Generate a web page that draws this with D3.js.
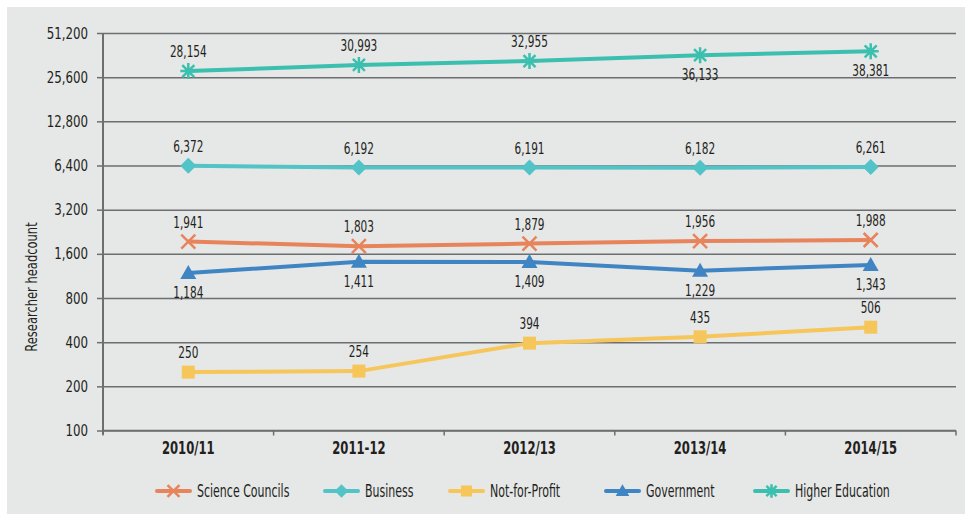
<!DOCTYPE html>
<html><head><meta charset="utf-8">
<script src="https://cdn.jsdelivr.net/npm/d3@7"></script>
<style>
html,body{margin:0;padding:0;background:#fff;}
text{font-family:"DejaVu Sans Condensed","Liberation Sans Narrow",sans-serif;fill:#231f20;}
</style></head>
<body><svg id="c" width="970" height="514"></svg>
<script>
const categories = ["2010/11","2011-12","2012/13","2013/14","2014/15"];
const seriesNames = ["Science Councils","Business","Not-for-Profit","Government","Higher Education"];
const scienceCouncils = [1941,1803,1879,1956,1988];
const business = [6372,6192,6191,6182,6261];
const notForProfit = [250,254,394,435,506];
const government = [1184,1411,1409,1229,1343];
const higherEducation = [28154,30993,32955,36133,38381];
const yTicks = [100,200,400,800,1600,3200,6400,12800,25600,51200];
const labelPos = {
  "Science Councils":["a","a","a","a","a"],
  "Business":["a","a","a","a","a"],
  "Not-for-Profit":["a","a","a","a","a"],
  "Government":["b","b","b","b","b"],
  "Higher Education":["a","a","a","b","b"]
};
const colors = {"Science Councils":"#e8845b","Business":"#52c3c7","Not-for-Profit":"#f6c65b","Government":"#3f84c3","Higher Education":"#3bbfae"};
const markers = {"Science Councils":"x","Business":"diamond","Not-for-Profit":"square","Government":"triangle","Higher Education":"asterisk"};
const seriesValues = [scienceCouncils,business,notForProfit,government,higherEducation];

const svg = d3.select("#c");
svg.append("rect").attr("x",7).attr("y",7).attr("width",958).attr("height",507).attr("fill","#e6e7e7");

const pLeft=103, pRight=956, pTop=33, pBottom=430.5;
const x = d3.scaleBand().domain(categories).range([pLeft,pRight]).padding(0);
const y = d3.scaleLog().base(2).domain([100,51200]).range([pBottom,pTop]);
const cx = d => x(d)+x.bandwidth()/2;

// condensed text helper: places text at (tx,ty) horizontally squeezed
function ctext(parent, tx, ty, str, size, sx, anchor, bold){
  const t = parent.append("text").attr("transform",`translate(${tx},${ty}) scale(${sx},1)`)
    .attr("text-anchor",anchor||"start").attr("font-size",size).text(str);
  if(bold) t.attr("font-weight","bold");
  return t;
}

// gridlines + y ticks
const gy = svg.append("g").attr("transform",`translate(${pLeft},0)`)
  .call(d3.axisLeft(y).tickValues(yTicks).tickFormat(d3.format(",")).tickSize(6).tickPadding(8));
gy.select(".domain").remove();
gy.selectAll(".tick line").attr("stroke","#6d6e70").attr("stroke-width",1.5);
const ySx = 0.82;
gy.selectAll(".tick text").attr("font-size",16).style("fill","#231f20").style("font-family",null)
  .attr("x",-15/ySx).attr("transform",`scale(${ySx},1)`);
gy.selectAll(".tick").append("line").attr("x1",0).attr("x2",pRight-pLeft).attr("stroke","#6d6e70").attr("stroke-width",1.5);
svg.append("line").attr("x1",pLeft).attr("x2",pLeft).attr("y1",pTop).attr("y2",pBottom+4).attr("stroke","#6d6e70").attr("stroke-width",2);

// x axis
const boundaries = categories.map(c=>x(c)).concat([pRight]);
const gx = svg.append("g").attr("transform",`translate(0,${pBottom})`);
gx.append("line").attr("x1",pLeft).attr("x2",pRight).attr("stroke","#6d6e70").attr("stroke-width",1.5);
gx.selectAll("line.t").data(boundaries).join("line").attr("class","t")
  .attr("x1",d=>d).attr("x2",d=>d).attr("y1",0).attr("y2",5).attr("stroke","#6d6e70").attr("stroke-width",1.5);
categories.forEach(c=>ctext(gx, cx(c), 23, c, 17, 0.76, "middle", true));

// y title
svg.append("text").attr("transform","translate(37,287) rotate(-90) scale(0.8,1)")
  .attr("text-anchor","middle").attr("font-size",16).text("Researcher headcount");

function drawMarker(g, type, color, px, py, s){
  s = s||1;
  if(type==="x"){
    const r=7*s;
    g.append("path").attr("d",`M${px-r},${py-r}L${px+r},${py+r}M${px-r},${py+r}L${px+r},${py-r}`).attr("stroke",color).attr("stroke-width",2.5).attr("fill","none");
  } else if(type==="diamond"){
    const r=8*s;
    g.append("path").attr("d",`M${px},${py-r}L${px+r},${py}L${px},${py+r}L${px-r},${py}Z`).attr("fill",color);
  } else if(type==="square"){
    const r=6.5*s;
    g.append("rect").attr("x",px-r).attr("y",py-r).attr("width",2*r).attr("height",2*r).attr("fill",color);
  } else if(type==="triangle"){
    const r=8*s;
    g.append("path").attr("d",`M${px},${py-r}L${px+r},${py+6*s}L${px-r},${py+6*s}Z`).attr("fill",color);
  } else if(type==="asterisk"){
    const r=8*s, d=6*s;
    g.append("path").attr("d",`M${px},${py-r}L${px},${py+r}M${px-d},${py-d}L${px+d},${py+d}M${px-d},${py+d}L${px+d},${py-d}M${px-r},${py}L${px+r},${py}`).attr("stroke",color).attr("stroke-width",2.5).attr("fill","none");
  }
}

const line = d3.line().x(d=>cx(d.c)).y(d=>y(d.v));
seriesNames.forEach((name,i)=>{
  const data = categories.map((c,j)=>({c, v: seriesValues[i][j], p: labelPos[name][j]}));
  const g = svg.append("g");
  g.append("path").datum(data).attr("d",line).attr("fill","none").attr("stroke",colors[name]).attr("stroke-width",4);
  data.forEach(d=>drawMarker(g, markers[name], colors[name], cx(d.c), y(d.v)));
  data.forEach(d=>ctext(g, cx(d.c), d.p==="a"? y(d.v)-14 : y(d.v)+25, d3.format(",")(d.v), 15, 0.78, "middle"));
});

// legend
const legendX = [157,325,450,606,755];
const lg = svg.append("g");
seriesNames.forEach((name,i)=>{
  const lx = legendX[i], ly = 491;
  lg.append("line").attr("x1",lx).attr("x2",lx+33).attr("y1",ly).attr("y2",ly).attr("stroke",colors[name]).attr("stroke-width",4).attr("stroke-linecap","round");
  drawMarker(lg, markers[name], colors[name], lx+16.5, ly, 0.85);
  ctext(lg, lx+40, ly+6, name, 17, 0.72, "start");
});
</script></body></html>
